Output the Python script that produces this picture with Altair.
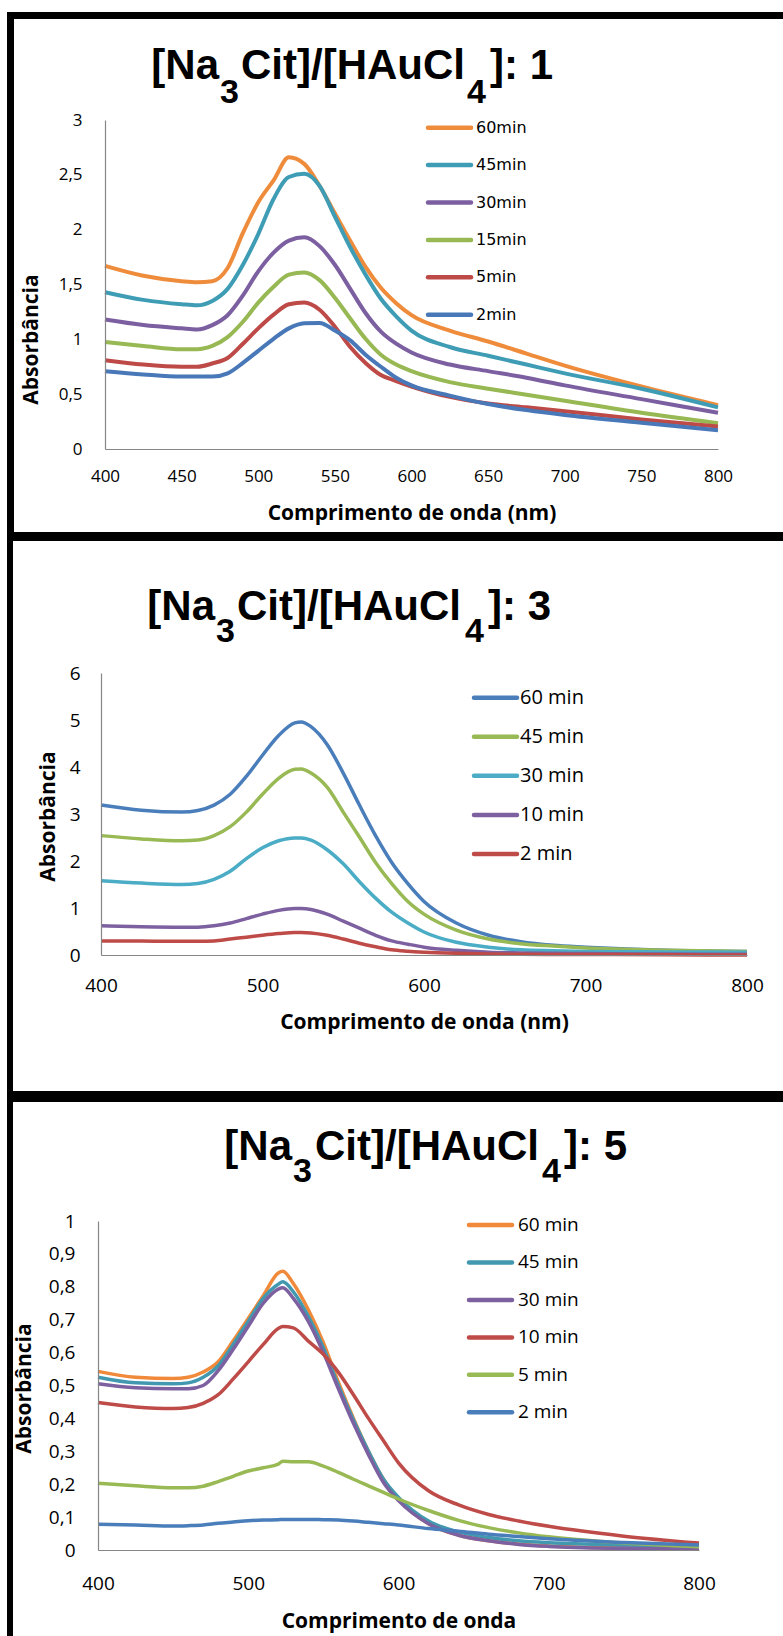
import altair as alt
import pandas as pd

# ======================= DATA =======================
# Panel 1 : [Na3Cit]/[HAuCl4] = 1
P1_SERIES = ["60min", "45min", "30min", "15min", "5min", "2min"]
P1_WL = [400, 425, 450, 460, 470, 480, 490, 500, 510, 520, 530, 540,
         550, 560, 570, 580, 590, 600, 625, 650, 675, 700, 750, 800]
P1_60 = [1.67, 1.58, 1.53, 1.52, 1.53, 1.65, 1.97, 2.25, 2.45, 2.66, 2.60, 2.40,
         2.15, 1.90, 1.66, 1.47, 1.33, 1.22, 1.08, 0.98, 0.87, 0.76, 0.57, 0.40]
P1_45 = [1.43, 1.36, 1.32, 1.31, 1.35, 1.46, 1.68, 1.96, 2.28, 2.48, 2.51, 2.40,
         2.12, 1.84, 1.59, 1.37, 1.21, 1.08, 0.93, 0.85, 0.77, 0.69, 0.55, 0.38]
P1_30 = [1.18, 1.13, 1.10, 1.09, 1.13, 1.22, 1.40, 1.62, 1.79, 1.90, 1.93, 1.85,
         1.68, 1.46, 1.24, 1.07, 0.96, 0.88, 0.77, 0.71, 0.65, 0.58, 0.455, 0.33]
P1_15 = [0.975, 0.94, 0.91, 0.91, 0.94, 1.02, 1.16, 1.335, 1.48, 1.59, 1.61, 1.54,
         1.38, 1.19, 1.005, 0.86, 0.77, 0.71, 0.61, 0.55, 0.495, 0.44, 0.33, 0.235]
P1_5 = [0.81, 0.77, 0.75, 0.75, 0.78, 0.83, 0.96, 1.10, 1.225, 1.32, 1.335, 1.27,
        1.115, 0.93, 0.785, 0.675, 0.62, 0.57, 0.475, 0.415, 0.38, 0.345, 0.27, 0.205]
P1_2 = [0.71, 0.68, 0.66, 0.66, 0.66, 0.69, 0.785, 0.895, 1.005, 1.10, 1.147, 1.15,
        1.08, 0.99, 0.86, 0.75, 0.65, 0.58, 0.487, 0.41, 0.355, 0.31, 0.24, 0.17]
P1_X_TICKS = [400, 450, 500, 550, 600, 650, 700, 750, 800]
P1_Y_TICKS = [0, 0.5, 1, 1.5, 2, 2.5, 3]

# Panel 2 : [Na3Cit]/[HAuCl4] = 3
P2_SERIES = ["60 min", "45 min", "30 min", "10 min", "2 min"]
P2_WL = [400, 425, 450, 460, 470, 480, 490, 500, 510, 520, 524, 530, 540,
         550, 560, 570, 580, 590, 600, 620, 640, 660, 680, 700, 750, 800]
P2_60 = [3.19, 3.08, 3.04, 3.075, 3.19, 3.42, 3.80, 4.25, 4.67, 4.94, 4.96, 4.86, 4.48,
         3.87, 3.19, 2.54, 1.97, 1.52, 1.14, 0.68, 0.42, 0.28, 0.205, 0.167, 0.10, 0.076]
P2_45 = [2.54, 2.47, 2.43, 2.445, 2.54, 2.73, 3.04, 3.42, 3.76, 3.95, 3.96, 3.87, 3.57,
         3.04, 2.51, 1.97, 1.52, 1.14, 0.87, 0.53, 0.34, 0.24, 0.19, 0.15, 0.10, 0.076]
P2_30 = [1.58, 1.53, 1.50, 1.52, 1.61, 1.78, 2.05, 2.28, 2.43, 2.49, 2.49, 2.445, 2.24,
         1.94, 1.56, 1.21, 0.91, 0.68, 0.49, 0.27, 0.167, 0.11, 0.09, 0.076, 0.065, 0.06]
P2_10 = [0.62, 0.60, 0.59, 0.59, 0.62, 0.68, 0.775, 0.87, 0.95, 0.99, 0.99, 0.97, 0.87,
         0.72, 0.57, 0.42, 0.30, 0.23, 0.167, 0.10, 0.06, 0.045, 0.035, 0.03, 0.02, 0.015]
P2_2 = [0.30, 0.30, 0.29, 0.29, 0.30, 0.34, 0.38, 0.42, 0.455, 0.48, 0.48, 0.47, 0.42,
        0.34, 0.25, 0.175, 0.11, 0.08, 0.06, 0.035, 0.02, 0.015, 0.01, 0.01, 0.005, 0.0]
P2_X_TICKS = [400, 500, 600, 700, 800]
P2_Y_TICKS = [0, 1, 2, 3, 4, 5, 6]

# Panel 3 : [Na3Cit]/[HAuCl4] = 5
P3_SERIES = ["60 min", "45 min", "30 min", "10 min", "5 min", "2 min"]
P3_WL = [400, 425, 450, 460, 470, 480, 490, 500, 510, 520, 523, 530, 540,
         550, 560, 570, 580, 590, 600, 620, 640, 660, 680, 700, 750, 800]
P3_60 = [0.543, 0.525, 0.521, 0.525, 0.541, 0.572, 0.636, 0.704, 0.773, 0.842, 0.847, 0.81, 0.73,
         0.63, 0.51, 0.40, 0.30, 0.215, 0.155, 0.08, 0.045, 0.028, 0.018, 0.012, 0.006, 0.004]
P3_45 = [0.525, 0.508, 0.505, 0.508, 0.525, 0.56, 0.625, 0.695, 0.765, 0.808, 0.815, 0.785, 0.71,
         0.615, 0.50, 0.395, 0.30, 0.215, 0.16, 0.088, 0.055, 0.038, 0.028, 0.022, 0.015, 0.012]
P3_30 = [0.505, 0.493, 0.49, 0.49, 0.50, 0.545, 0.61, 0.68, 0.75, 0.793, 0.797, 0.765, 0.695,
         0.60, 0.49, 0.385, 0.29, 0.205, 0.15, 0.08, 0.045, 0.028, 0.017, 0.011, 0.005, 0.003]
P3_10 = [0.448, 0.435, 0.43, 0.433, 0.446, 0.472, 0.52, 0.572, 0.625, 0.673, 0.679, 0.675, 0.635,
         0.595, 0.54, 0.472, 0.40, 0.332, 0.265, 0.18, 0.137, 0.108, 0.088, 0.072, 0.042, 0.021]
P3_5 = [0.203, 0.195, 0.189, 0.189, 0.194, 0.208, 0.224, 0.24, 0.25, 0.261, 0.27, 0.268, 0.268,
        0.255, 0.236, 0.215, 0.195, 0.175, 0.155, 0.12, 0.09, 0.068, 0.052, 0.04, 0.021, 0.01]
P3_2 = [0.078, 0.076, 0.073, 0.074, 0.076, 0.081, 0.085, 0.089, 0.091, 0.092, 0.093, 0.093, 0.093,
        0.092, 0.091, 0.088, 0.084, 0.08, 0.076, 0.065, 0.057, 0.048, 0.041, 0.034, 0.023, 0.015]
P3_X_TICKS = [400, 500, 600, 700, 800]
P3_Y_TICKS = [0, 0.1, 0.2, 0.3, 0.4, 0.5, 0.6, 0.7, 0.8, 0.9, 1]

# ======================= STYLE / LAYOUT =======================
P1_COLORS = ["#EF8C3C", "#3F9CB5", "#7B5FA0", "#97B853", "#BD4A47", "#4978B8"]
P2_COLORS = ["#4A7EBB", "#98B954", "#4BACC6", "#7D60A0", "#BE4B48"]
P3_COLORS = ["#F0893A", "#4198AF", "#7D60A0", "#BE4B48", "#98B954", "#4A7EBB"]

TITLE_FONT = "Liberation Sans"
AX_FONT = "Open Sans"
DOMAIN_COLOR = "#868686"
ORIGIN_X = 98  # common left origin of the three panels (page px)


def long_df(series, wl, columns):
    rows = []
    for name, vals in zip(series, columns):
        for w, v in zip(wl, vals):
            rows.append({"series": name, "wl": w, "A": v})
    return pd.DataFrame(rows)


def make_panel(df, series, colors, x_ticks, y_ticks, y_max, cfg):
    px0, py0, px1, py1 = cfg["plot"]
    H = py1 - py0

    def rx(v):
        return v - ORIGIN_X

    def ry(v):
        return v - py0

    W = rx(px1)
    one = pd.DataFrame({"k": [0]})
    layers = []

    # panel frame (black border) and white interior
    for (x0, y0, x1, y1), fill in ((cfg["frame"], "black"), (cfg["inner"], "white")):
        layers.append(
            alt.Chart(one).mark_rect(fill=fill).encode(
                x=alt.value(rx(x0)), x2=alt.value(rx(x1)),
                y=alt.value(ry(y0)), y2=alt.value(ry(y1)))
        )

    color = alt.Color("series:N", scale=alt.Scale(domain=series, range=colors), legend=None)

    x_axis = alt.Axis(values=x_ticks, title=cfg["xtitle"], grid=False, ticks=False,
                      domainColor=DOMAIN_COLOR, domainWidth=1.2, zindex=1,
                      labelFont=AX_FONT, labelFontSize=cfg["tick_size"], labelColor="black",
                      labelPadding=cfg["xpad"], labelFlush=False,
                      titleFont=AX_FONT, titleFontSize=21, titleFontWeight="bold",
                      titleColor="black", titleX=(rx(px0) + rx(px1)) / 2,
                      titleY=cfg["xtitle_y"], titleBaseline="middle", titleAlign="center")
    y_axis = alt.Axis(values=y_ticks, title="Absorbância", grid=False, ticks=False,
                      domainColor=DOMAIN_COLOR, domainWidth=1.2, zindex=1,
                      offset=-rx(px0),
                      labelExpr="replace(format(datum.value, '~g'), '.', ',')",
                      labelFont=AX_FONT, labelFontSize=cfg["tick_size"], labelColor="black",
                      labelPadding=cfg["ypad"], labelFlush=False,
                      titleFont=AX_FONT, titleFontSize=21, titleFontWeight="bold",
                      titleColor="black", titleAngle=270, titleAlign="center",
                      titleBaseline="middle",
                      titleX=cfg["ytitle_x"] - px0, titleY=ry(cfg["ytitle_y"]))

    layers.append(
        alt.Chart(df).mark_line(strokeWidth=cfg["lw"], interpolate="monotone").encode(
            x=alt.X("wl:Q", scale=alt.Scale(domain=[400, 800], range=[rx(px0), rx(px1)],
                                            nice=False), axis=x_axis),
            y=alt.Y("A:Q", scale=alt.Scale(domain=[0, y_max], nice=False), axis=y_axis),
            color=color,
        )
    )

    # legend (rules + labels), rows placed by a point scale
    leg = pd.DataFrame({"series": series})
    lx0, lx1, ltx, ly0, ly1 = cfg["legend"]
    ly = alt.Y("series:N", sort=series,
               scale=alt.Scale(type="point", domain=series, range=[ry(ly0), ry(ly1)], padding=0),
               axis=None)
    layers.append(
        alt.Chart(leg).mark_rule(strokeWidth=4.5, strokeCap="round").encode(
            x=alt.value(rx(lx0)), x2=alt.value(rx(lx1)), y=ly, color=color)
    )
    layers.append(
        alt.Chart(leg).mark_text(align="left", baseline="middle", font=cfg["leg_font"],
                                 fontSize=cfg["leg_size"], color="black").encode(
            x=alt.value(rx(ltx)), y=ly, text="series:N")
    )

    # chart title with subscripts:  "[Na" 3 "Cit]/[HAuCl" 4 "]: n"
    s3, c0, s4, e4, base, sub = cfg["title_pos"]
    pieces = [("[Na", s3, base, 42, "right"),
              ("3", s3 + 1, sub, 34, "left"),
              ("Cit]/[HAuCl", c0, base, 42, "left"),
              ("4", s4, sub, 34, "left"),
              (cfg["title_end"], e4, base, 42, "left")]
    for txt, tx, ty, size, align in pieces:
        layers.append(
            alt.Chart(one).mark_text(text=txt, font=TITLE_FONT, fontSize=size,
                                     fontWeight="bold", align=align,
                                     baseline="alphabetic", color="black").encode(
                x=alt.value(rx(tx)), y=alt.value(ry(ty)))
        )

    return alt.layer(*layers).resolve_scale(y="independent").properties(width=W, height=H)


cfg1 = dict(
    plot=(105, 120, 718, 449), frame=(7, 12, 783, 536), inner=(14, 19, 783, 532),
    xtitle="Comprimento de onda (nm)", xtitle_y=64, ytitle_x=31, ytitle_y=339,
    tick_size=17, xpad=19, ypad=23, lw=4,
    legend=(428, 471, 476, 127.7, 314.7), leg_font="DejaVu Sans", leg_size=16,
    title_pos=(219, 241, 467, 490, 79, 103), title_end="]: 1",
)
cfg2 = dict(
    plot=(101, 673, 747, 955), frame=(7, 536, 783, 1096), inner=(13, 541, 783, 1091),
    xtitle="Comprimento de onda (nm)", xtitle_y=67, ytitle_x=48, ytitle_y=816,
    tick_size=19, xpad=21, ypad=21, lw=3.5,
    legend=(474, 517, 520, 697.7, 854), leg_font="Open Sans", leg_size=20,
    title_pos=(215, 237, 465, 488, 620, 642), title_end="]: 3",
)
cfg3 = dict(
    plot=(98, 1221, 699, 1550), frame=(7, 1096, 783, 1636), inner=(13, 1102, 783, 1636),
    xtitle="Comprimento de onda", xtitle_y=71, ytitle_x=24, ytitle_y=1388,
    tick_size=19, xpad=24, ypad=23, lw=3.5,
    legend=(469, 512, 518, 1225, 1412.3), leg_font="Open Sans", leg_size=19,
    title_pos=(292, 315, 542, 564, 1160, 1182), title_end="]: 5",
)

df1 = long_df(P1_SERIES, P1_WL, [P1_60, P1_45, P1_30, P1_15, P1_5, P1_2])
df2 = long_df(P2_SERIES, P2_WL, [P2_60, P2_45, P2_30, P2_10, P2_2])
df3 = long_df(P3_SERIES, P3_WL, [P3_60, P3_45, P3_30, P3_10, P3_5, P3_2])

panel1 = make_panel(df1, P1_SERIES, P1_COLORS, P1_X_TICKS, P1_Y_TICKS, 3, cfg1)
panel2 = make_panel(df2, P2_SERIES, P2_COLORS, P2_X_TICKS, P2_Y_TICKS, 6, cfg2)
panel3 = make_panel(df3, P3_SERIES, P3_COLORS, P3_X_TICKS, P3_Y_TICKS, 1, cfg3)

chart = alt.vconcat(panel1, panel2, panel3, spacing=0).resolve_scale(
    color="independent"
).properties(
    padding={"left": 7, "top": 12, "right": 0, "bottom": 0},
    background="white",
).configure_view(strokeWidth=0)

chart.save("out.html", embed_options={"renderer": "svg", "actions": False})
